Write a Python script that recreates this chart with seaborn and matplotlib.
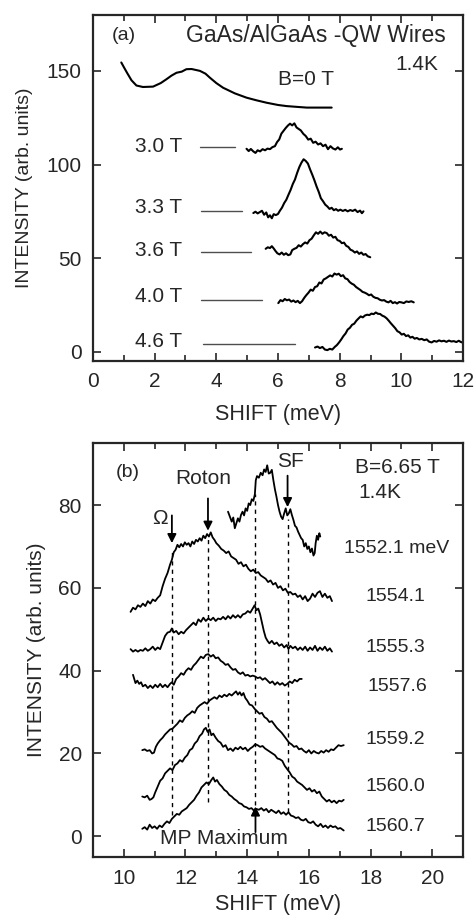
import matplotlib
matplotlib.use("Agg")
import matplotlib.pyplot as plt
from matplotlib.ticker import MultipleLocator
import seaborn as sns

sns.set_theme(style="ticks")
plt.rcParams['font.family'] = ['Liberation Sans', 'DejaVu Sans']

# ---------------- panel (a): GaAs/AlGaAs QW wires, 1.4 K, (shift meV, intensity)
a_labels = ["3.0 T", "3.3 T", "3.6 T", "4.0 T", "4.6 T"]
a_label_y = [109.8, 76.8, 54.0, 29.5, 5.4]
a_base_y = [109.3, 75.0, 53.2, 27.7, 3.9]
a_base_x0 = [3.47, 3.52, 3.52, 3.52, 3.57]
a_base_x1 = [4.60, 4.82, 5.14, 5.47, 6.55]

b0 = [(0.92, 154.5), (1.02, 151.5), (1.12, 148.6), (1.25, 145.0), (1.41, 142.2), (1.62, 141.4),
      (1.95, 141.6), (2.20, 143.5), (2.38, 145.5), (2.55, 147.5), (2.71, 149.0), (2.88, 149.6),
      (3.03, 150.9), (3.20, 151.0), (3.47, 150.0), (3.65, 148.5), (3.79, 146.4), (4.00, 143.5),
      (4.22, 141.0), (4.60, 138.0), (4.98, 135.7), (5.30, 134.3), (5.63, 133.0), (6.00, 131.8),
      (6.28, 131.2), (6.60, 130.8), (6.93, 130.4), (7.30, 130.4), (7.74, 130.4)]

t30 = [(4.98, 108.4), (5.05, 107.2), (5.12, 108.3), (5.20, 107.0), (5.27, 106.2), (5.34, 107.6),
       (5.42, 107.0), (5.50, 108.2), (5.58, 107.6), (5.66, 108.5), (5.74, 108.2), (5.82, 109.3),
       (5.90, 109.8), (5.97, 112.0), (6.04, 113.4), (6.11, 116.5), (6.18, 118.0), (6.25, 119.5),
       (6.32, 120.8), (6.39, 121.8), (6.46, 120.9), (6.53, 122.0), (6.60, 119.8), (6.67, 119.0),
       (6.74, 118.2), (6.82, 116.4), (6.90, 115.2), (6.98, 113.3), (7.06, 113.8), (7.14, 111.6),
       (7.22, 112.2), (7.30, 110.7), (7.38, 111.3), (7.46, 109.8), (7.54, 110.6), (7.62, 108.2),
       (7.70, 109.8), (7.78, 108.6), (7.86, 108.0), (7.94, 109.2), (8.01, 108.0), (8.07, 108.4)]

t33 = [(5.20, 74.1), (5.27, 74.8), (5.34, 73.9), (5.41, 74.6), (5.48, 75.3), (5.55, 73.2),
       (5.62, 74.4), (5.68, 71.8), (5.74, 72.9), (5.80, 71.3), (5.86, 73.5), (5.93, 73.0),
       (6.00, 73.6), (6.06, 75.3), (6.13, 77.0), (6.20, 79.4), (6.27, 81.2), (6.34, 83.9),
       (6.41, 86.5), (6.48, 89.6), (6.55, 92.0), (6.62, 95.5), (6.69, 98.6), (6.76, 101.0),
       (6.83, 102.8), (6.90, 101.9), (6.97, 100.5), (7.04, 97.4), (7.11, 94.6), (7.18, 91.6),
       (7.25, 88.3), (7.32, 85.4), (7.39, 82.0), (7.46, 80.4), (7.53, 78.6), (7.60, 77.6),
       (7.67, 76.3), (7.74, 76.9), (7.81, 75.6), (7.88, 76.2), (7.95, 75.3), (8.02, 75.9),
       (8.10, 75.2), (8.18, 75.8), (8.26, 75.0), (8.34, 75.7), (8.42, 75.2), (8.50, 75.9),
       (8.58, 74.6), (8.66, 75.4), (8.72, 74.0), (8.77, 75.0)]

t36 = [(5.60, 55.0), (5.67, 55.8), (5.74, 55.4), (5.80, 56.4), (5.86, 55.2), (5.92, 53.8),
       (5.98, 52.6), (6.05, 52.0), (6.12, 53.0), (6.19, 51.8), (6.26, 52.6), (6.33, 51.6),
       (6.40, 52.0), (6.46, 54.3), (6.53, 55.0), (6.60, 55.5), (6.67, 56.9), (6.74, 56.2),
       (6.81, 57.5), (6.88, 58.4), (6.95, 57.8), (7.02, 59.6), (7.09, 60.4), (7.16, 62.2),
       (7.23, 63.8), (7.30, 63.0), (7.37, 64.2), (7.44, 63.0), (7.51, 63.8), (7.58, 63.4),
       (7.65, 62.0), (7.72, 62.5), (7.79, 61.0), (7.86, 61.4), (7.93, 59.6), (8.00, 59.2),
       (8.07, 58.0), (8.14, 58.3), (8.21, 56.6), (8.28, 56.0), (8.35, 54.5), (8.42, 54.0),
       (8.49, 53.0), (8.56, 53.6), (8.63, 52.3), (8.70, 53.0), (8.77, 51.8), (8.84, 52.2),
       (8.91, 51.0), (8.99, 50.5)]

t40 = [(6.01, 26.0), (6.08, 27.6), (6.15, 27.0), (6.22, 28.2), (6.29, 27.5), (6.36, 27.9),
       (6.43, 26.8), (6.50, 27.4), (6.57, 26.5), (6.64, 27.2), (6.71, 26.0), (6.78, 27.0),
       (6.85, 28.8), (6.92, 30.3), (6.99, 31.6), (7.06, 33.2), (7.13, 32.6), (7.20, 34.6),
       (7.27, 35.0), (7.34, 37.0), (7.41, 36.5), (7.48, 38.6), (7.55, 39.2), (7.62, 40.0),
       (7.69, 40.8), (7.76, 40.2), (7.83, 41.8), (7.90, 41.2), (7.97, 41.7), (8.04, 40.4),
       (8.11, 40.9), (8.18, 39.2), (8.25, 38.8), (8.32, 37.3), (8.39, 36.4), (8.46, 35.8),
       (8.53, 34.6), (8.60, 33.8), (8.67, 33.0), (8.74, 32.0), (8.81, 31.6), (8.88, 31.0),
       (8.95, 30.2), (9.02, 30.6), (9.09, 29.4), (9.16, 28.8), (9.23, 28.6), (9.30, 27.8),
       (9.37, 27.4), (9.44, 27.6), (9.51, 26.8), (9.58, 26.4), (9.65, 27.2), (9.72, 26.0),
       (9.79, 26.5), (9.86, 25.8), (9.93, 26.6), (10.00, 26.4), (10.08, 26.0), (10.16, 26.9),
       (10.24, 26.6), (10.32, 27.0), (10.40, 26.4)]

t46 = [(7.20, 2.3), (7.28, 2.8), (7.36, 2.0), (7.44, 2.6), (7.52, 1.2), (7.60, 0.9),
       (7.68, 1.6), (7.76, 1.2), (7.84, 2.6), (7.91, 3.6), (7.98, 5.0), (8.05, 6.6),
       (8.12, 8.4), (8.19, 9.8), (8.26, 11.9), (8.33, 12.8), (8.40, 14.4), (8.47, 15.0),
       (8.54, 16.6), (8.61, 17.8), (8.68, 18.9), (8.75, 18.4), (8.82, 19.4), (8.89, 19.8),
       (8.96, 19.6), (9.03, 20.4), (9.10, 20.1), (9.17, 21.0), (9.24, 20.3), (9.31, 20.2),
       (9.38, 19.3), (9.45, 18.8), (9.52, 17.9), (9.59, 16.6), (9.66, 15.2), (9.73, 13.9),
       (9.80, 12.6), (9.87, 11.0), (9.94, 10.4), (10.01, 9.2), (10.08, 9.6), (10.15, 8.4),
       (10.22, 8.8), (10.29, 7.6), (10.36, 8.0), (10.43, 7.0), (10.50, 7.4), (10.58, 6.6),
       (10.66, 6.9), (10.74, 6.2), (10.82, 6.6), (10.90, 5.4), (10.98, 5.0), (11.06, 5.8),
       (11.14, 5.4), (11.22, 6.1), (11.30, 5.6), (11.38, 5.9), (11.46, 5.3), (11.54, 6.0),
       (11.62, 5.5), (11.70, 5.7), (11.78, 5.2), (11.86, 5.9), (11.92, 5.3), (11.97, 5.0)]

# ---------------- panel (b): B = 6.65 T, different laser energies
b_labels = ["1552.1 meV", "1554.1", "1555.3", "1557.6", "1559.2", "1560.0", "1560.7"]
b_label_x = [17.13, 17.85, 17.85, 17.9, 17.85, 17.85, 17.85]
b_label_y = [69.5, 58.0, 45.5, 36.2, 23.3, 12.0, 2.3]

s1 = [(13.38, 78.4), (13.44, 77.2), (13.50, 76.0), (13.55, 77.0), (13.60, 74.4), (13.65, 75.6),
      (13.70, 76.8), (13.75, 76.0), (13.80, 77.6), (13.85, 78.4), (13.90, 77.5), (13.95, 79.2),
      (14.00, 78.6), (14.05, 80.4), (14.10, 80.0), (14.15, 81.4), (14.20, 81.0), (14.25, 82.6),
      (14.28, 86.0), (14.32, 87.0), (14.38, 86.6), (14.44, 87.8), (14.50, 87.2), (14.55, 88.6),
      (14.60, 88.0), (14.65, 89.6), (14.70, 87.6), (14.75, 87.8), (14.80, 88.5), (14.85, 86.0),
      (14.90, 83.8), (14.95, 82.0), (15.00, 80.0), (15.05, 78.4), (15.10, 77.2), (15.15, 76.6),
      (15.20, 78.0), (15.25, 79.2), (15.30, 77.5), (15.35, 78.0), (15.40, 79.0), (15.45, 77.6),
      (15.50, 76.4), (15.55, 75.0), (15.60, 74.6), (15.65, 73.6), (15.70, 72.8), (15.75, 72.0),
      (15.80, 71.6), (15.85, 70.0), (15.90, 70.8), (15.95, 69.4), (16.00, 70.0), (16.05, 68.6),
      (16.10, 69.5), (16.15, 67.8), (16.19, 68.4), (16.22, 70.8), (16.26, 72.6), (16.30, 71.6),
      (16.34, 73.2), (16.37, 72.4)]

s2 = [(10.22, 54.2), (10.30, 55.2), (10.38, 54.8), (10.46, 55.8), (10.54, 55.4), (10.62, 56.2),
      (10.70, 55.6), (10.78, 56.8), (10.86, 56.2), (10.94, 57.2), (11.02, 56.8), (11.10, 57.6),
      (11.18, 58.2), (11.26, 60.4), (11.34, 62.2), (11.42, 63.6), (11.50, 65.6), (11.56, 66.8),
      (11.62, 68.6), (11.68, 69.2), (11.74, 70.4), (11.80, 69.8), (11.86, 70.6), (11.92, 70.0),
      (11.98, 71.0), (12.04, 70.4), (12.10, 70.8), (12.16, 70.0), (12.22, 71.2), (12.28, 70.6),
      (12.34, 71.6), (12.40, 71.2), (12.46, 72.0), (12.52, 71.4), (12.58, 72.6), (12.64, 72.0),
      (12.70, 73.0), (12.76, 72.4), (12.82, 73.4), (12.88, 72.2), (12.94, 71.6), (13.00, 70.8),
      (13.08, 70.2), (13.16, 69.4), (13.24, 69.0), (13.32, 68.4), (13.40, 68.8), (13.48, 67.6),
      (13.56, 67.2), (13.64, 66.8), (13.72, 65.8), (13.80, 66.2), (13.88, 65.2), (13.96, 65.6),
      (14.04, 64.6), (14.12, 64.0), (14.20, 64.4), (14.28, 63.6), (14.36, 63.8), (14.44, 63.0),
      (14.52, 62.6), (14.60, 62.2), (14.68, 61.4), (14.76, 61.8), (14.84, 60.8), (14.92, 61.2),
      (15.00, 60.0), (15.08, 60.4), (15.16, 59.4), (15.24, 59.8), (15.32, 58.8), (15.40, 59.0),
      (15.48, 58.4), (15.56, 58.6), (15.64, 57.8), (15.72, 58.2), (15.80, 57.2), (15.88, 58.0),
      (15.96, 56.8), (16.04, 57.4), (16.12, 58.6), (16.20, 57.8), (16.28, 58.8), (16.36, 59.2),
      (16.44, 57.8), (16.52, 58.6), (16.60, 57.6), (16.68, 58.0), (16.75, 56.8)]

s3 = [(10.22, 45.2), (10.30, 44.6), (10.38, 45.0), (10.46, 44.6), (10.54, 45.0), (10.62, 44.8),
      (10.70, 45.4), (10.78, 44.8), (10.86, 45.2), (10.94, 45.8), (11.02, 45.0), (11.10, 45.6),
      (11.18, 45.2), (11.26, 46.8), (11.34, 48.4), (11.42, 49.2), (11.50, 49.4), (11.56, 50.2),
      (11.62, 49.2), (11.70, 49.6), (11.78, 48.8), (11.86, 49.4), (11.94, 49.0), (12.02, 49.8),
      (12.10, 50.4), (12.18, 51.0), (12.26, 51.6), (12.34, 51.0), (12.42, 52.4), (12.50, 51.8),
      (12.58, 52.8), (12.66, 52.0), (12.74, 52.6), (12.82, 52.2), (12.90, 52.8), (12.98, 52.0),
      (13.06, 52.6), (13.14, 52.4), (13.22, 53.0), (13.30, 52.4), (13.38, 53.2), (13.46, 52.6),
      (13.54, 53.4), (13.62, 52.8), (13.70, 53.4), (13.78, 52.8), (13.86, 53.6), (13.94, 53.8),
      (14.02, 54.4), (14.10, 54.0), (14.18, 55.0), (14.24, 55.8), (14.30, 54.6), (14.36, 55.0),
      (14.42, 53.6), (14.48, 51.6), (14.54, 49.6), (14.60, 48.0), (14.66, 47.2), (14.72, 46.6),
      (14.80, 47.2), (14.88, 46.4), (14.96, 46.8), (15.04, 46.0), (15.12, 46.4), (15.20, 45.6),
      (15.28, 46.2), (15.34, 45.2), (15.40, 46.0), (15.48, 45.4), (15.56, 45.8), (15.64, 45.0),
      (15.72, 45.6), (15.80, 45.0), (15.88, 45.8), (15.96, 44.8), (16.04, 45.6), (16.12, 45.0),
      (16.20, 46.0), (16.28, 44.8), (16.36, 45.6), (16.44, 45.0), (16.52, 45.8), (16.60, 44.8),
      (16.68, 45.4), (16.75, 44.6)]

s4 = [(10.30, 39.0), (10.34, 38.0), (10.38, 37.0), (10.44, 37.6), (10.50, 36.8), (10.56, 37.2),
      (10.62, 36.2), (10.70, 36.6), (10.78, 35.8), (10.86, 36.4), (10.94, 35.8), (11.02, 36.6),
      (11.10, 36.0), (11.18, 36.8), (11.26, 36.0), (11.34, 36.6), (11.42, 36.0), (11.50, 36.8),
      (11.56, 37.2), (11.62, 36.6), (11.70, 38.0), (11.78, 38.6), (11.86, 39.4), (11.94, 39.0),
      (12.02, 40.0), (12.10, 40.6), (12.18, 40.2), (12.26, 41.2), (12.34, 41.8), (12.42, 42.6),
      (12.50, 43.4), (12.58, 43.0), (12.66, 43.8), (12.74, 44.0), (12.82, 43.4), (12.90, 43.8),
      (12.98, 43.0), (13.06, 43.2), (13.14, 42.4), (13.22, 42.0), (13.30, 41.4), (13.38, 41.6),
      (13.46, 40.8), (13.54, 40.2), (13.62, 40.4), (13.70, 39.6), (13.78, 39.2), (13.86, 39.6),
      (13.94, 38.8), (14.02, 39.0), (14.10, 38.6), (14.18, 38.8), (14.26, 38.6), (14.34, 38.2),
      (14.42, 38.4), (14.50, 37.8), (14.58, 38.2), (14.66, 37.6), (14.74, 37.0), (14.82, 37.4),
      (14.90, 36.6), (14.98, 37.2), (15.06, 36.6), (15.14, 37.0), (15.22, 36.4), (15.30, 36.8),
      (15.38, 37.4), (15.46, 37.0), (15.54, 37.8), (15.62, 37.4), (15.70, 38.0), (15.77, 38.0)]

s5 = [(10.60, 20.8), (10.68, 21.0), (10.76, 20.6), (10.84, 20.8), (10.92, 20.0), (10.98, 20.2),
      (11.04, 21.6), (11.10, 22.4), (11.18, 23.2), (11.26, 23.8), (11.34, 24.6), (11.42, 25.2),
      (11.50, 25.8), (11.58, 26.0), (11.66, 26.6), (11.74, 27.2), (11.82, 28.0), (11.90, 27.6),
      (11.98, 28.6), (12.06, 29.2), (12.14, 29.6), (12.22, 30.2), (12.30, 29.8), (12.38, 31.0),
      (12.46, 31.6), (12.54, 32.0), (12.62, 32.4), (12.70, 32.0), (12.78, 32.8), (12.86, 33.2),
      (12.94, 33.6), (13.02, 33.2), (13.10, 34.0), (13.18, 33.6), (13.26, 34.2), (13.34, 33.8),
      (13.42, 34.4), (13.50, 34.0), (13.58, 34.6), (13.64, 35.0), (13.70, 34.2), (13.76, 34.8),
      (13.82, 34.0), (13.88, 34.6), (13.94, 33.4), (14.00, 32.8), (14.08, 31.8), (14.16, 31.6),
      (14.24, 30.8), (14.32, 30.2), (14.40, 29.6), (14.48, 29.8), (14.56, 28.8), (14.64, 28.4),
      (14.72, 27.6), (14.80, 27.8), (14.88, 27.0), (14.96, 26.2), (15.04, 25.6), (15.12, 25.0),
      (15.20, 24.2), (15.28, 23.4), (15.36, 22.6), (15.44, 22.2), (15.52, 21.6), (15.60, 21.8),
      (15.68, 21.0), (15.76, 21.2), (15.84, 20.6), (15.92, 20.2), (16.00, 20.8), (16.08, 20.0),
      (16.16, 20.6), (16.24, 20.2), (16.32, 20.0), (16.40, 20.6), (16.48, 20.2), (16.56, 20.8),
      (16.64, 20.4), (16.72, 21.0), (16.80, 20.8), (16.88, 21.4), (16.96, 22.0), (17.04, 21.8),
      (17.13, 22.0)]

s6 = [(10.60, 9.6), (10.68, 9.4), (10.76, 9.8), (10.84, 8.8), (10.90, 9.0), (10.96, 9.4),
      (11.02, 10.6), (11.10, 12.0), (11.18, 13.4), (11.26, 14.0), (11.34, 15.2), (11.42, 15.8),
      (11.50, 16.4), (11.58, 16.0), (11.66, 17.2), (11.74, 17.6), (11.82, 18.4), (11.90, 18.0),
      (11.98, 19.0), (12.06, 19.6), (12.14, 20.8), (12.22, 21.2), (12.30, 22.4), (12.38, 23.0),
      (12.46, 24.2), (12.54, 24.8), (12.60, 25.8), (12.66, 26.2), (12.72, 25.2), (12.78, 25.8),
      (12.84, 24.4), (12.90, 24.8), (12.98, 23.8), (13.06, 23.0), (13.14, 22.6), (13.22, 21.6),
      (13.30, 22.0), (13.38, 20.8), (13.46, 21.2), (13.54, 20.6), (13.62, 21.4), (13.70, 21.0),
      (13.78, 21.6), (13.86, 21.0), (13.94, 21.4), (14.02, 20.6), (14.10, 21.2), (14.18, 21.6),
      (14.26, 22.2), (14.34, 22.0), (14.42, 21.6), (14.50, 21.8), (14.58, 21.2), (14.66, 20.8),
      (14.74, 20.4), (14.82, 20.0), (14.90, 19.6), (14.98, 18.8), (15.06, 18.6), (15.14, 18.2),
      (15.22, 17.0), (15.30, 16.2), (15.38, 15.4), (15.46, 14.4), (15.54, 14.0), (15.62, 13.2),
      (15.70, 12.8), (15.78, 12.4), (15.86, 11.8), (15.94, 11.2), (16.02, 11.6), (16.10, 10.8),
      (16.18, 11.2), (16.26, 10.4), (16.34, 10.8), (16.42, 9.6), (16.50, 9.0), (16.58, 8.4),
      (16.66, 8.8), (16.74, 8.2), (16.82, 8.6), (16.90, 8.0), (16.98, 8.6), (17.06, 8.4),
      (17.13, 8.8)]

s7 = [(10.60, 1.8), (10.68, 2.2), (10.76, 1.6), (10.84, 2.8), (10.92, 2.0), (11.00, 2.4),
      (11.08, 1.8), (11.16, 2.6), (11.24, 2.2), (11.32, 3.0), (11.40, 3.6), (11.48, 3.2),
      (11.56, 4.2), (11.64, 4.8), (11.72, 5.4), (11.80, 5.2), (11.88, 6.0), (11.96, 6.4),
      (12.04, 6.8), (12.12, 7.6), (12.20, 8.2), (12.28, 8.8), (12.36, 9.8), (12.44, 10.6),
      (12.52, 11.8), (12.60, 12.4), (12.68, 13.0), (12.76, 12.6), (12.84, 13.6), (12.90, 14.2),
      (12.96, 13.2), (13.02, 13.6), (13.10, 12.6), (13.18, 12.0), (13.26, 11.2), (13.34, 10.8),
      (13.42, 10.0), (13.50, 9.6), (13.58, 9.0), (13.66, 8.6), (13.74, 8.0), (13.82, 7.8),
      (13.90, 7.2), (13.98, 7.0), (14.06, 6.6), (14.14, 6.8), (14.22, 6.2), (14.30, 6.6),
      (14.38, 6.4), (14.46, 6.8), (14.54, 6.2), (14.62, 6.6), (14.70, 5.8), (14.78, 6.4),
      (14.86, 6.0), (14.94, 5.6), (15.02, 6.2), (15.10, 5.4), (15.18, 5.8), (15.26, 5.2),
      (15.34, 5.8), (15.42, 5.0), (15.50, 4.8), (15.58, 4.4), (15.66, 4.6), (15.74, 4.0),
      (15.82, 3.8), (15.90, 4.2), (15.98, 3.4), (16.06, 3.2), (16.14, 3.6), (16.22, 2.8),
      (16.30, 2.4), (16.38, 3.0), (16.46, 2.2), (16.54, 2.6), (16.62, 2.0), (16.70, 2.6),
      (16.78, 2.2), (16.86, 2.4), (16.94, 1.8), (17.02, 2.0), (17.13, 1.4)]

# dashed guide lines: Omega, Roton, MP maximum, SF
guide_x = [11.56, 12.73, 14.27, 15.31]
guide_y0 = [5.1, 8.3, 7.5, 5.9]
guide_y1 = [69.3, 72.6, 82.7, 76.6]

# arrows (x, tail, head) for Omega, Roton, SF, MP maximum
arrow_x = [11.56, 12.73, 15.31, 14.27]
arrow_tail = [77.5, 81.6, 87.1, 1.0]
arrow_head = [70.8, 73.8, 79.5, 7.2]

fig = plt.figure(figsize=(4.74, 9.19), dpi=100)
ax1 = fig.add_axes([0.196, 0.607, 0.781, 0.377])
ax2 = fig.add_axes([0.196, 0.0675, 0.781, 0.4505])

fs = 15

sns.lineplot(x=[p[0] for p in b0], y=[p[1] for p in b0], ax=ax1, color="black", lw=1.5)
for curve in [t30, t33, t36, t40, t46]:
    sns.lineplot(x=[p[0] for p in curve], y=[p[1] for p in curve], ax=ax1,
                 color="black", lw=1.5)
for lab, ly, by, x0, x1 in zip(a_labels, a_label_y, a_base_y, a_base_x0, a_base_x1):
    ax1.text(1.35, ly, lab, fontsize=fs, va="center", ha="left")
    ax1.plot([x0, x1], [by, by], color="0.3", lw=1.0)

ax1.text(0.6, 168.7, "(a)", fontsize=fs - 1, va="center", ha="left")
ax1.text(11.45, 168.7, "GaAs/AlGaAs -QW Wires", fontsize=16.5, va="center", ha="right")
ax1.text(11.2, 153.6, "1.4K", fontsize=fs, va="center", ha="right")
ax1.text(6.0, 145.5, "B=0 T", fontsize=fs, va="center", ha="left")

ax1.set_xlim(0, 12)
ax1.set_ylim(-5, 180)
ax1.xaxis.set_major_locator(MultipleLocator(2))
ax1.xaxis.set_minor_locator(MultipleLocator(1))
ax1.set_yticks([0, 50, 100, 150])
ax1.set_xlabel("SHIFT (meV)", fontsize=15.5, labelpad=9)
ax1.set_ylabel("INTENSITY (arb. units)", fontsize=14, labelpad=10)

for curve in [s1, s2, s3, s4, s5, s6, s7]:
    sns.lineplot(x=[p[0] for p in curve], y=[p[1] for p in curve], ax=ax2,
                 color="black", lw=1.3)
for lab, lx, ly in zip(b_labels, b_label_x, b_label_y):
    ax2.text(lx, ly, lab, fontsize=14, va="center", ha="left")
ax2.vlines(guide_x, guide_y0, guide_y1, colors="black", linestyles=(0, (3, 3)), lw=1)
for x, t, h in zip(arrow_x, arrow_tail, arrow_head):
    ax2.annotate("", xy=(x, h), xytext=(x, t),
                 arrowprops=dict(arrowstyle="-|>", color="black", lw=1.3,
                                 mutation_scale=13, shrinkA=0, shrinkB=0))

ax2.text(9.75, 87.9, "(b)", fontsize=fs - 1, va="center", ha="left")
ax2.text(12.57, 86.3, "Roton", fontsize=fs, va="center", ha="center")
ax2.text(15.39, 90.6, "SF", fontsize=fs, va="center", ha="center")
ax2.text(11.16, 76.8, "Ω", fontsize=fs, va="center", ha="center")
ax2.text(17.5, 89.1, "B=6.65 T", fontsize=fs, va="center", ha="left")
ax2.text(17.6, 83.0, "1.4K", fontsize=fs, va="center", ha="left")
ax2.text(13.24, -0.6, "MP Maximum", fontsize=fs, va="center", ha="center")

ax2.set_xlim(9, 21)
ax2.set_ylim(-5, 95)
ax2.xaxis.set_major_locator(MultipleLocator(2))
ax2.xaxis.set_minor_locator(MultipleLocator(1))
ax2.set_yticks([0, 20, 40, 60, 80])
ax2.set_xlabel("SHIFT (meV)", fontsize=15.5, labelpad=4)
ax2.set_ylabel("INTENSITY (arb. units)", fontsize=15, labelpad=9)

for ax in (ax1, ax2):
    ax.tick_params(which="both", direction="in", top=True, right=True,
                   labelsize=fs, width=1.2, pad=8)
    ax.tick_params(which="major", length=6)
    ax.tick_params(which="minor", length=4)
    for sp in ax.spines.values():
        sp.set_linewidth(1.6)
ax2.tick_params(axis="x", which="both", pad=9)

fig.savefig("out.png", dpi=100)
